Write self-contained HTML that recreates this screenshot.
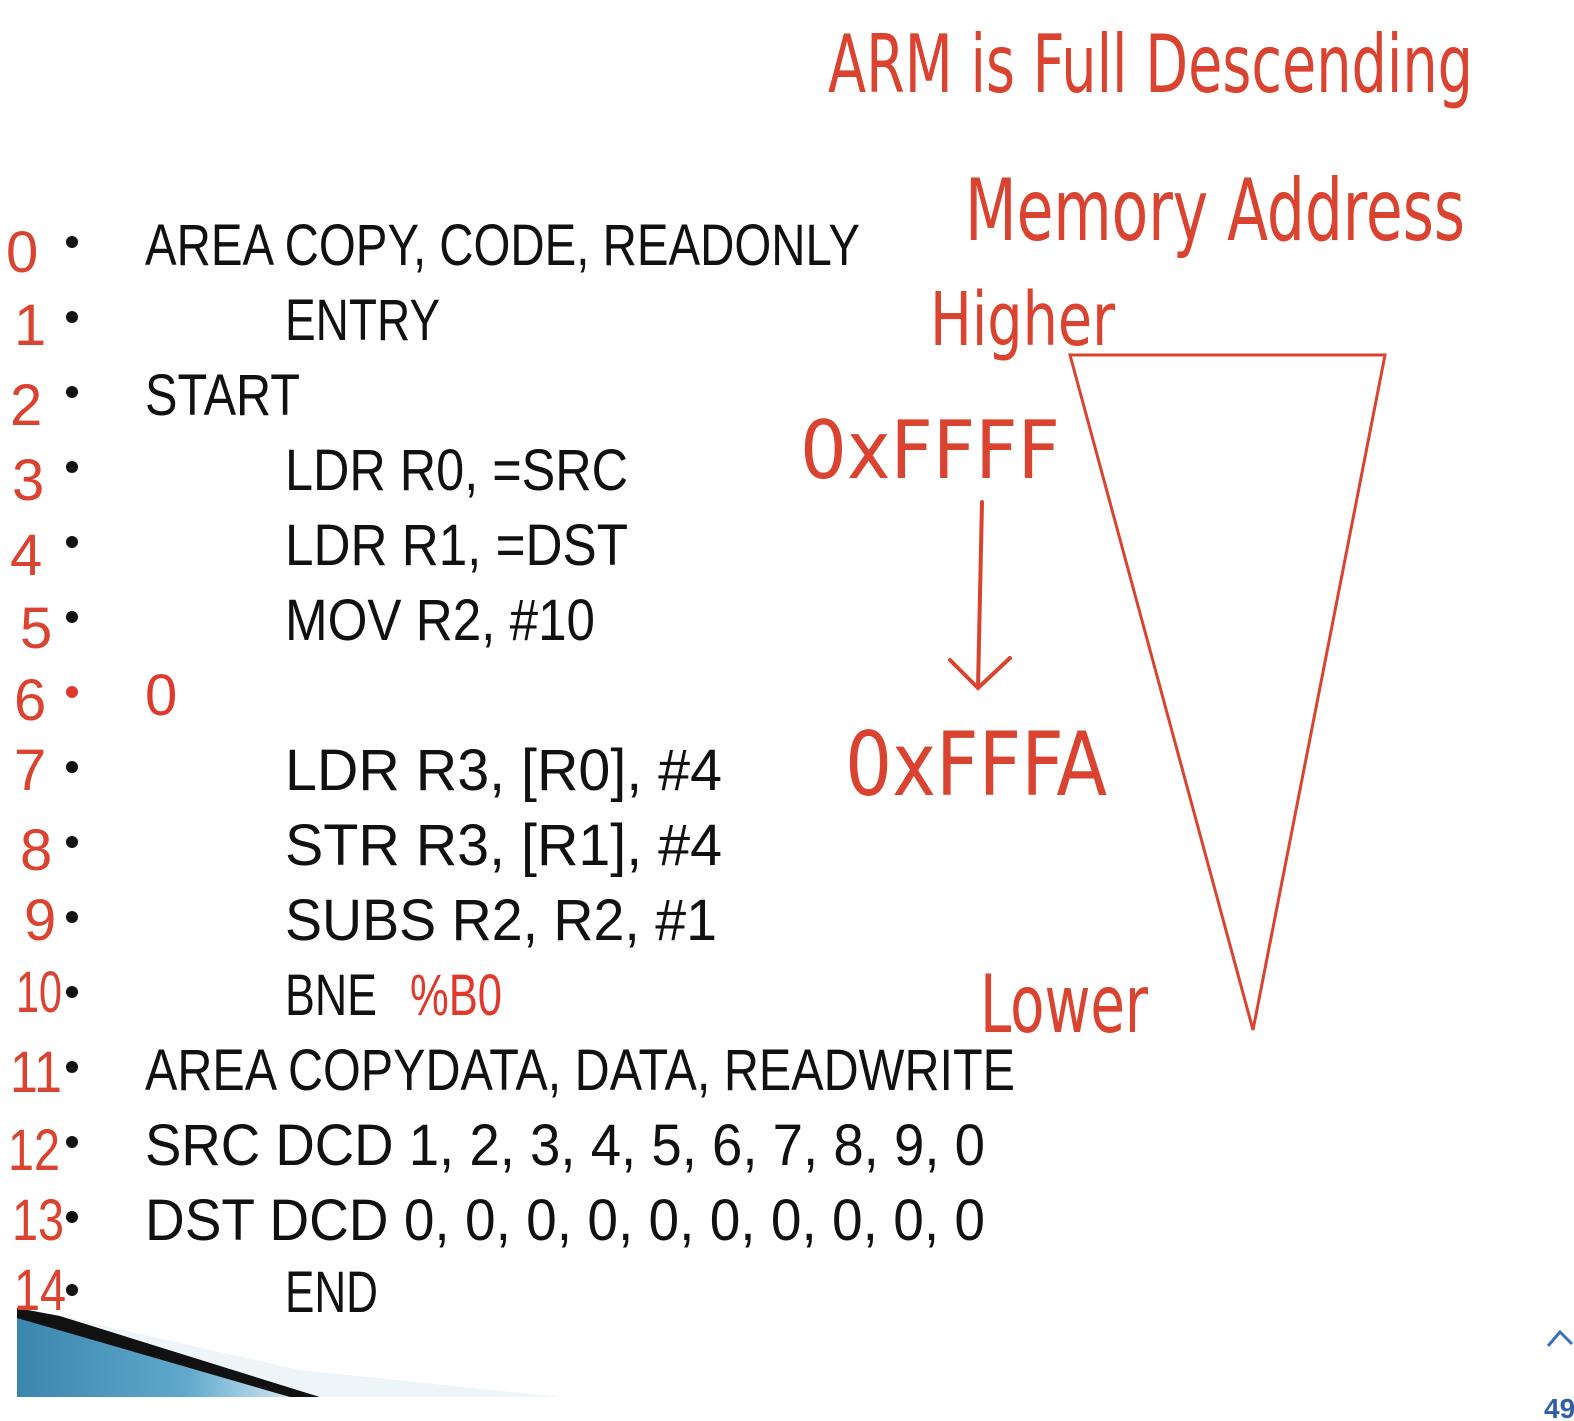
<!DOCTYPE html>
<html><head><meta charset="utf-8"><style>
html,body{margin:0;padding:0;background:#fff}
svg{display:block}
.c{font-family:"Liberation Sans",sans-serif;font-size:58px;fill:#111}
.h{font-family:"DejaVu Sans Condensed","Liberation Sans",sans-serif;fill:#d9432f;font-weight:300}
.n{font-family:"Liberation Sans",sans-serif;fill:#d9432f;font-size:58px}
</style></head><body>
<svg width="1574" height="1421" viewBox="0 0 1574 1421" xmlns="http://www.w3.org/2000/svg">
<defs><linearGradient id="g" x1="0" y1="0" x2="1" y2="0"><stop offset="0" stop-color="#3a86ad"/><stop offset="0.6" stop-color="#5fa9cc"/><stop offset="1" stop-color="#dcecf4"/></linearGradient></defs>
<polygon points="17,1316 300,1397 17,1397" fill="url(#g)"/>
<polygon points="17,1308 60,1316 320,1397 290,1397 17,1318" fill="#111"/>
<polygon points="320,1397 60,1316 300,1370 560,1397" fill="#eef5f9"/>
<g class="c">
<text x="145" y="265" textLength="715" lengthAdjust="spacingAndGlyphs">AREA  COPY, CODE, READONLY</text>
<text x="285" y="340" textLength="155" lengthAdjust="spacingAndGlyphs">ENTRY</text>
<text x="145" y="415" textLength="155" lengthAdjust="spacingAndGlyphs">START</text>
<text x="285" y="490" textLength="343" lengthAdjust="spacingAndGlyphs">LDR  R0, =SRC</text>
<text x="285" y="565" textLength="343" lengthAdjust="spacingAndGlyphs">LDR  R1, =DST</text>
<text x="285" y="640" textLength="310" lengthAdjust="spacingAndGlyphs">MOV  R2, #10</text>
<text x="145" y="715" fill="#e0392b">0</text>
<text x="285" y="790" textLength="437" lengthAdjust="spacingAndGlyphs">LDR  R3, [R0], #4</text>
<text x="285" y="865" textLength="437" lengthAdjust="spacingAndGlyphs">STR  R3, [R1], #4</text>
<text x="285" y="940" textLength="432" lengthAdjust="spacingAndGlyphs">SUBS  R2,  R2, #1</text>
<text x="285" y="1015" textLength="92" lengthAdjust="spacingAndGlyphs">BNE</text>
<text x="410" y="1015" textLength="92" lengthAdjust="spacingAndGlyphs" fill="#e0392b">%B0</text>
<text x="145" y="1090" textLength="870" lengthAdjust="spacingAndGlyphs">AREA  COPYDATA, DATA, READWRITE</text>
<text x="145" y="1165" textLength="840" lengthAdjust="spacingAndGlyphs">SRC  DCD  1, 2, 3, 4, 5, 6, 7, 8, 9, 0</text>
<text x="145" y="1240" textLength="840" lengthAdjust="spacingAndGlyphs">DST  DCD  0, 0, 0, 0, 0, 0, 0, 0, 0, 0</text>
<text x="285" y="1312" textLength="93" lengthAdjust="spacingAndGlyphs">END</text>
</g>
<g fill="#111">
<circle cx="72" cy="242" r="6"/><circle cx="72" cy="317" r="6"/><circle cx="72" cy="392" r="6"/><circle cx="72" cy="467" r="6"/><circle cx="72" cy="542" r="6"/><circle cx="72" cy="617" r="6"/><circle cx="72" cy="692" r="6" fill="#e0392b"/><circle cx="72" cy="767" r="6"/><circle cx="72" cy="842" r="6"/><circle cx="72" cy="917" r="6"/><circle cx="72" cy="992" r="6"/><circle cx="72" cy="1067" r="6"/><circle cx="72" cy="1142" r="6"/><circle cx="72" cy="1217" r="6"/><circle cx="72" cy="1290" r="6"/>
</g>
<g class="n">
<text x="6" y="272">0</text><text x="14" y="345">1</text><text x="10" y="425">2</text><text x="12" y="500">3</text><text x="10" y="575">4</text><text x="20" y="648">5</text><text x="14" y="720">6</text><text x="14" y="790">7</text><text x="20" y="870">8</text><text x="24" y="940">9</text>
<text x="16" y="1012" textLength="46" lengthAdjust="spacingAndGlyphs">10</text><text x="10" y="1092" textLength="52" lengthAdjust="spacingAndGlyphs">11</text><text x="8" y="1170" textLength="52" lengthAdjust="spacingAndGlyphs">12</text><text x="12" y="1240" textLength="52" lengthAdjust="spacingAndGlyphs">13</text><text x="14" y="1310" textLength="52" lengthAdjust="spacingAndGlyphs">14</text>
</g>
<g class="h">
<text x="828" y="92" font-size="80" textLength="645" lengthAdjust="spacingAndGlyphs">ARM is Full Descending</text>
<text x="965" y="240" font-size="86" textLength="500" lengthAdjust="spacingAndGlyphs">Memory Address</text>
<text x="930" y="345" font-size="74" textLength="185" lengthAdjust="spacingAndGlyphs">Higher</text>
<text x="800" y="478" font-size="80" textLength="260" lengthAdjust="spacingAndGlyphs">0xFFFF</text>
<text x="845" y="795" font-size="88" textLength="262" lengthAdjust="spacingAndGlyphs">0xFFFA</text>
<text x="980" y="1032" font-size="80" textLength="168" lengthAdjust="spacingAndGlyphs">Lower</text>
</g>
<polygon points="1070,355 1385,355 1253,1030" fill="none" stroke="#d9432f" stroke-width="3"/>
<path d="M982,502 L978,688 M950,660 L978,688 L1010,658" fill="none" stroke="#d9432f" stroke-width="4" stroke-linecap="round"/>
<path d="M1548,1346 L1560,1332 L1572,1344" fill="none" stroke="#3a6fc4" stroke-width="3"/>
<text x="1544" y="1418" font-family="Liberation Sans,sans-serif" font-size="28" font-weight="bold" fill="#2f5ea8">49</text>
</svg>
</body></html>
